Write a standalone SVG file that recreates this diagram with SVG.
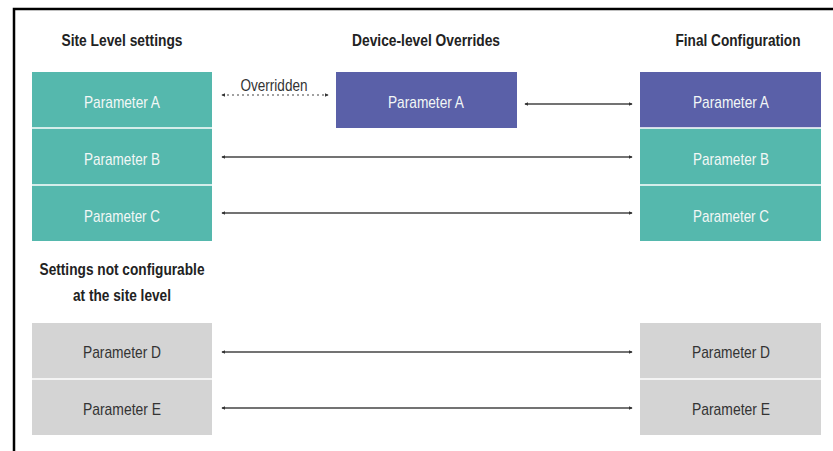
<svg xmlns="http://www.w3.org/2000/svg" width="833" height="451" viewBox="0 0 833 451">
  <defs>
    <marker id="ah" viewBox="0 0 6 6" refX="5" refY="3" markerWidth="4" markerHeight="4" orient="auto-start-reverse" markerUnits="userSpaceOnUse">
      <path d="M0,0 L6,3 L0,6 z" fill="#333"/>
    </marker>
    <style>
      .h { font-family: "Liberation Sans", Arial, sans-serif; font-weight: bold; font-size: 16.5px; fill: #222; text-anchor: middle; }
      .t { font-family: "Liberation Sans", Arial, sans-serif; font-size: 17px; text-anchor: middle; }
      .w { fill: #f2f7f6; }
      .d { fill: #333; }
      .teal { fill: #55b8ad; }
      .purple { fill: #5a60a8; }
      .gray { fill: #d4d4d4; }
      .sep { stroke: #ffffff; stroke-width: 1.5; }
      .conn { stroke: #444; stroke-width: 1.5; fill: none; marker-start: url(#ah); marker-end: url(#ah); }
      .dash { stroke-dasharray: 2 3; stroke-width: 1.2; }
    </style>
  </defs>
  <rect width="833" height="451" fill="#ffffff"/>
  <path d="M14,451 V9 H833" fill="none" stroke="#000" stroke-width="2.5"/>

  <g id="headings">
    <text class="h" x="122" y="46" textLength="121" lengthAdjust="spacingAndGlyphs">Site Level settings</text>
    <text class="h" x="426" y="46" textLength="148" lengthAdjust="spacingAndGlyphs">Device-level Overrides</text>
    <text class="h" x="738" y="46" textLength="125" lengthAdjust="spacingAndGlyphs">Final Configuration</text>
    <text class="h" x="122" y="275" textLength="165" lengthAdjust="spacingAndGlyphs">Settings not configurable</text>
    <text class="h" x="122" y="301" textLength="98" lengthAdjust="spacingAndGlyphs">at the site level</text>
  </g>

  <g id="site-a"><rect class="teal" x="32" y="72" width="180" height="56"/><text class="t w" x="122" y="108" textLength="76" lengthAdjust="spacingAndGlyphs">Parameter A</text></g>
  <g id="site-b"><rect class="teal" x="32" y="128" width="180" height="57"/><text class="t w" x="122" y="165" textLength="76" lengthAdjust="spacingAndGlyphs">Parameter B</text></g>
  <g id="site-c"><rect class="teal" x="32" y="185" width="180" height="56"/><text class="t w" x="122" y="222" textLength="76" lengthAdjust="spacingAndGlyphs">Parameter C</text></g>
  <line class="sep" x1="32" y1="128" x2="212" y2="128"/>
  <line class="sep" x1="32" y1="185" x2="212" y2="185"/>

  <g id="device-a"><rect class="purple" x="336" y="72" width="181" height="56"/><text class="t w" x="426" y="108" textLength="76" lengthAdjust="spacingAndGlyphs">Parameter A</text></g>

  <g id="final-a"><rect class="purple" x="640" y="72" width="181" height="56"/><text class="t w" x="731" y="108" textLength="76" lengthAdjust="spacingAndGlyphs">Parameter A</text></g>
  <g id="final-b"><rect class="teal" x="640" y="128" width="181" height="57"/><text class="t w" x="731" y="165" textLength="76" lengthAdjust="spacingAndGlyphs">Parameter B</text></g>
  <g id="final-c"><rect class="teal" x="640" y="185" width="181" height="56"/><text class="t w" x="731" y="222" textLength="76" lengthAdjust="spacingAndGlyphs">Parameter C</text></g>
  <line class="sep" x1="640" y1="128" x2="821" y2="128"/>
  <line class="sep" x1="640" y1="185" x2="821" y2="185"/>

  <g id="site-d"><rect class="gray" x="32" y="323" width="180" height="56"/><text class="t d" x="122" y="358" textLength="78" lengthAdjust="spacingAndGlyphs">Parameter D</text></g>
  <g id="site-e"><rect class="gray" x="32" y="379" width="180" height="56"/><text class="t d" x="122" y="415" textLength="78" lengthAdjust="spacingAndGlyphs">Parameter E</text></g>
  <line class="sep" x1="32" y1="379" x2="212" y2="379"/>
  <g id="final-d"><rect class="gray" x="640" y="323" width="181" height="56"/><text class="t d" x="731" y="358" textLength="78" lengthAdjust="spacingAndGlyphs">Parameter D</text></g>
  <g id="final-e"><rect class="gray" x="640" y="379" width="181" height="56"/><text class="t d" x="731" y="415" textLength="78" lengthAdjust="spacingAndGlyphs">Parameter E</text></g>
  <line class="sep" x1="640" y1="379" x2="821" y2="379"/>

  <g id="connectors">
    <line class="conn dash" x1="222" y1="95" x2="328" y2="95"/>
    <text class="t d" x="274" y="91" textLength="67" lengthAdjust="spacingAndGlyphs">Overridden</text>
    <line class="conn" x1="525" y1="104" x2="632" y2="104"/>
    <line class="conn" x1="222" y1="157" x2="632" y2="157"/>
    <line class="conn" x1="222" y1="213" x2="632" y2="213"/>
    <line class="conn" x1="222" y1="352" x2="632" y2="352"/>
    <line class="conn" x1="222" y1="408" x2="632" y2="408"/>
  </g>
</svg>
